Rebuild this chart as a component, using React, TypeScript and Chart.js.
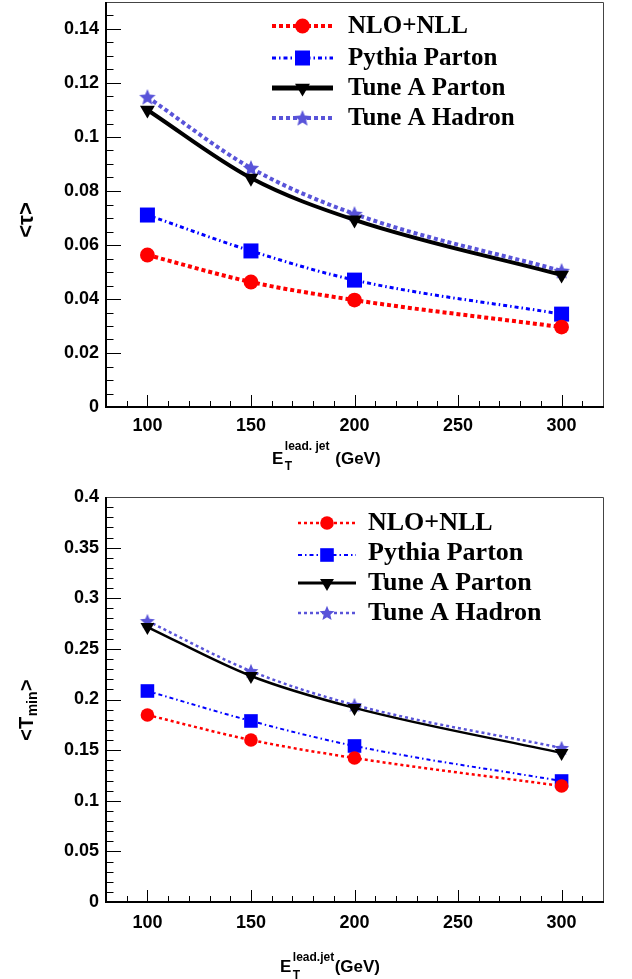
import React, { useEffect, useRef } from 'react';
import { Chart, registerables } from 'chart.js';

Chart.register(...registerables);

// ---------- DATA ----------
const X_VALUES = [100, 150, 200, 300];
const X_TICKS = [100, 150, 200, 250, 300];
const X_MIN = 80;
const X_MAX = 320;
const X_MINOR_STEP = 10;

const SERIES_NAMES = ['NLO+NLL', 'Pythia Parton', 'Tune A Parton', 'Tune A Hadron'];

// Top panel: <tau>
const TAU_NLO_NLL = [0.0563, 0.0463, 0.0396, 0.0296];
const TAU_PYTHIA_PARTON = [0.0711, 0.0578, 0.047, 0.0344];
const TAU_TUNEA_PARTON = [0.11, 0.0848, 0.0693, 0.0489];
const TAU_TUNEA_HADRON = [0.1148, 0.0885, 0.0715, 0.0504];
const TAU_Y_TICKS = [0, 0.02, 0.04, 0.06, 0.08, 0.1, 0.12, 0.14];
const TAU_Y_MAX = 0.15;
const TAU_Y_MINOR_STEP = 0.005;

// Bottom panel: <T_min>
const TMIN_NLO_NLL = [0.1847, 0.16, 0.1422, 0.1146];
const TMIN_PYTHIA_PARTON = [0.2084, 0.1788, 0.1541, 0.1195];
const TMIN_TUNEA_PARTON = [0.2716, 0.2232, 0.1917, 0.1472];
const TMIN_TUNEA_HADRON = [0.2775, 0.2281, 0.1946, 0.1521];
const TMIN_Y_TICKS = [0, 0.05, 0.1, 0.15, 0.2, 0.25, 0.3, 0.35, 0.4];
const TMIN_Y_MAX = 0.4;
const TMIN_Y_MINOR_STEP = 0.01;

// ---------- STYLE ----------
const COLORS = ['#ff0000', '#0000ff', '#000000', '#5954d9'];
const MARKERS = ['circle', 'rect', 'triangle', 'star'];
const AXIS_FONT = 'Liberation Sans';
const LEGEND_FONT = 'Liberation Serif';

type Panel = {
  top: number;
  height: number;
  padTop: number;
  padRight: number;
  yAxisWidth: number;
  xAxisHeight: number;
  xLabelPad: number;
  series: number[][];
  yTicks: number[];
  yMax: number;
  yMinor: number;
  lineWidths: number[];
  dashes: number[][];
  markerSizes: number[]; // circle r, rect half-side, triangle r, star outer r
  legend: { x0: number; x1: number; textX: number; markerY: number[]; baseY: number[]; size: number; lineWidths: number[] };
  xTitle: { x: number; baseline: number; main: number; script: number; supDy: number; subDy: number; space: boolean };
  yTitle: { cx: number; cy: number; main: number; script: number; kind: 'tau' | 'tmin' };
};

const PANELS: Panel[] = [
  {
    top: 0,
    height: 470,
    padTop: 2,
    padRight: 29,
    yAxisWidth: 106,
    xAxisHeight: 63,
    xLabelPad: 8,
    series: [TAU_NLO_NLL, TAU_PYTHIA_PARTON, TAU_TUNEA_PARTON, TAU_TUNEA_HADRON],
    yTicks: TAU_Y_TICKS,
    yMax: TAU_Y_MAX,
    yMinor: TAU_Y_MINOR_STEP,
    lineWidths: [4, 3, 4, 4],
    dashes: [[4, 3], [4, 3, 1.5, 3], [], [4, 3]],
    markerSizes: [7.4, 7.5, 8.6, 8.6],
    legend: { x0: 272, x1: 333, textX: 348, markerY: [26, 58, 88, 118], baseY: [33, 65, 95, 125], size: 25, lineWidths: [4, 3, 5, 4] },
    xTitle: { x: 272, baseline: 464, main: 17, script: 12, supDy: -14, subDy: 6, space: true },
    yTitle: { cx: 27, cy: 220, main: 22, script: 14, kind: 'tau' },
  },
  {
    top: 470,
    height: 509,
    padTop: 27,
    padRight: 29,
    yAxisWidth: 106,
    xAxisHeight: 77,
    xLabelPad: 10,
    series: [TMIN_NLO_NLL, TMIN_PYTHIA_PARTON, TMIN_TUNEA_PARTON, TMIN_TUNEA_HADRON],
    yTicks: TMIN_Y_TICKS,
    yMax: TMIN_Y_MAX,
    yMinor: TMIN_Y_MINOR_STEP,
    lineWidths: [2.5, 2, 2.5, 2.5],
    dashes: [[3, 3], [4, 3, 1.5, 3], [], [3, 3]],
    markerSizes: [6.8, 6.8, 8, 7.8],
    legend: { x0: 298, x1: 356, textX: 368, markerY: [53, 85, 113, 143], baseY: [60, 90, 120, 150], size: 26, lineWidths: [2.5, 2, 3, 2.5] },
    xTitle: { x: 280, baseline: 502, main: 17, script: 12, supDy: -11, subDy: 7, space: false },
    yTitle: { cx: 27, cy: 240, main: 20, script: 14, kind: 'tmin' },
  },
];

function makeStarCanvas(outerR: number, color: string): HTMLCanvasElement {
  const size = Math.ceil(outerR * 2 + 2);
  const c = document.createElement('canvas');
  c.width = size;
  c.height = size;
  const ctx = c.getContext('2d')!;
  const cx = size / 2;
  const cy = size / 2 + outerR * 0.08;
  const innerR = outerR * 0.45;
  ctx.beginPath();
  for (let k = 0; k < 10; k++) {
    const r = k % 2 === 0 ? outerR : innerR;
    const a = -Math.PI / 2 + (k * Math.PI) / 5;
    const px = cx + r * Math.cos(a);
    const py = cy + r * Math.sin(a);
    if (k === 0) ctx.moveTo(px, py);
    else ctx.lineTo(px, py);
  }
  ctx.closePath();
  ctx.fillStyle = color;
  ctx.fill();
  return c;
}

function drawMarker(ctx: CanvasRenderingContext2D, kind: string, x: number, y: number, size: number, color: string, star?: HTMLCanvasElement) {
  ctx.save();
  ctx.setLineDash([]);
  ctx.fillStyle = color;
  ctx.beginPath();
  if (kind === 'circle') {
    ctx.arc(x, y, size, 0, Math.PI * 2);
    ctx.fill();
  } else if (kind === 'rect') {
    ctx.rect(x - size, y - size, size * 2, size * 2);
    ctx.fill();
  } else if (kind === 'triangle') {
    ctx.moveTo(x, y + size);
    ctx.lineTo(x - 0.866 * size, y - 0.5 * size);
    ctx.lineTo(x + 0.866 * size, y - 0.5 * size);
    ctx.closePath();
    ctx.fill();
  } else if (kind === 'star' && star) {
    ctx.drawImage(star, x - star.width / 2, y - star.height / 2);
  }
  ctx.restore();
}

function font(size: number, family: string) {
  return `bold ${size}px "${family}"`;
}

function makePlugin(p: Panel, stars: HTMLCanvasElement[]) {
  return {
    id: 'rootStyle',
    afterDatasetsDraw(chart: any) {
      const { ctx, chartArea: a, scales } = chart;
      const xs = scales.x;
      const ys = scales.y;
      ctx.save();
      ctx.setLineDash([]);
      ctx.strokeStyle = '#000';
      ctx.lineWidth = 1;
      // x ticks (inward)
      const nx = Math.round((X_MAX - X_MIN) / X_MINOR_STEP);
      for (let k = 0; k <= nx; k++) {
        const v = X_MIN + k * X_MINOR_STEP;
        const major = X_TICKS.some((t) => Math.abs(t - v) < 1e-6);
        const px = Math.round(xs.getPixelForValue(v)) + 0.5;
        const len = major ? 12 : 6;
        ctx.beginPath();
        ctx.moveTo(px, a.bottom);
        ctx.lineTo(px, a.bottom - len);
        ctx.stroke();
      }
      // y ticks (inward)
      const ny = Math.round(p.yMax / p.yMinor);
      for (let k = 0; k <= ny; k++) {
        const v = k * p.yMinor;
        const major = p.yTicks.some((t) => Math.abs(t - v) < 1e-9);
        const py = Math.round(ys.getPixelForValue(v)) + 0.5;
        const len = major ? 15 : 7.5;
        ctx.beginPath();
        ctx.moveTo(a.left, py);
        ctx.lineTo(a.left + len, py);
        ctx.stroke();
      }
      // frame
      ctx.strokeStyle = '#444';
      ctx.lineWidth = 1;
      ctx.beginPath();
      ctx.moveTo(a.left, a.top + 0.5);
      ctx.lineTo(a.right + 0.5, a.top + 0.5);
      ctx.lineTo(a.right + 0.5, a.bottom);
      ctx.stroke();
      ctx.strokeStyle = '#000';
      ctx.lineWidth = 2;
      ctx.beginPath();
      ctx.moveTo(a.left, a.top);
      ctx.lineTo(a.left, a.bottom);
      ctx.lineTo(a.right + 1, a.bottom);
      ctx.stroke();
      ctx.restore();
    },
    afterDraw(chart: any) {
      const { ctx } = chart;
      ctx.save();
      // legend
      const L = p.legend;
      chart.data.datasets.forEach((ds: any, i: number) => {
        const y = L.markerY[i];
        ctx.save();
        ctx.strokeStyle = COLORS[i];
        ctx.lineWidth = L.lineWidths[i];
        ctx.setLineDash(p.dashes[i]);
        ctx.lineCap = 'butt';
        ctx.beginPath();
        ctx.moveTo(L.x0, y);
        ctx.lineTo(L.x1, y);
        ctx.stroke();
        ctx.restore();
        const mk = MARKERS[i];
        drawMarker(ctx, mk, (L.x0 + L.x1) / 2, y, p.markerSizes[i], COLORS[i], stars[i]);
        ctx.fillStyle = '#000';
        ctx.font = font(L.size, LEGEND_FONT);
        ctx.textAlign = 'left';
        ctx.textBaseline = 'alphabetic';
        ctx.fillText(ds.label, L.textX, L.baseY[i]);
      });

      // x title: E_T^{lead. jet} (GeV)
      const T = p.xTitle;
      ctx.fillStyle = '#000';
      ctx.textAlign = 'left';
      ctx.textBaseline = 'alphabetic';
      ctx.font = font(T.main, AXIS_FONT);
      ctx.fillText('E', T.x, T.baseline);
      const eW = ctx.measureText('E').width;
      const sx = T.x + eW + 1.5;
      ctx.font = font(T.script, AXIS_FONT);
      const supText = T.space ? 'lead. jet' : 'lead.jet';
      ctx.fillText(supText, sx, T.baseline + T.supDy);
      ctx.fillText('T', sx, T.baseline + T.subDy);
      const supW = ctx.measureText(supText).width;
      ctx.font = font(T.main, AXIS_FONT);
      ctx.fillText(T.space ? ' (GeV)' : '(GeV)', sx + supW + (T.space ? 1 : 0.5), T.baseline);

      // y title rotated
      const Y = p.yTitle;
      ctx.save();
      ctx.translate(Y.cx, Y.cy);
      ctx.rotate(-Math.PI / 2);
      ctx.textBaseline = 'middle';
      ctx.textAlign = 'left';
      if (Y.kind === 'tau') {
        ctx.font = font(Y.main, AXIS_FONT);
        const txt = '<\u03c4>';
        const w = ctx.measureText(txt).width;
        ctx.fillText(txt, -w / 2, 0);
      } else {
        ctx.font = font(Y.main, AXIS_FONT);
        const w1 = ctx.measureText('<T').width;
        const w3 = ctx.measureText('>').width;
        ctx.font = font(Y.script, AXIS_FONT);
        const w2 = ctx.measureText('min').width;
        const total = w1 + w2 + w3 + 1;
        let x = -total / 2;
        ctx.font = font(Y.main, AXIS_FONT);
        ctx.fillText('<T', x, 0);
        x += w1 + 0.5;
        ctx.font = font(Y.script, AXIS_FONT);
        ctx.fillText('min', x, 6);
        x += w2 + 0.5;
        ctx.font = font(Y.main, AXIS_FONT);
        ctx.fillText('>', x, 0);
      }
      ctx.restore();
      ctx.restore();
    },
  };
}

function PanelChart({ panel }: { panel: Panel }) {
  const ref = useRef<HTMLCanvasElement | null>(null);
  useEffect(() => {
    if (!ref.current) return;
    const p = panel;
    const stars = COLORS.map((c, i) => (MARKERS[i] === 'star' ? makeStarCanvas(p.markerSizes[i], c) : (null as any)));
    const datasets = p.series.map((vals, i) => {
      const mk = MARKERS[i];
      let pointStyle: any = mk;
      let radius = p.markerSizes[i];
      if (mk === 'rect') radius = p.markerSizes[i] / Math.SQRT1_2;
      if (mk === 'star') pointStyle = stars[i];
      return {
        label: SERIES_NAMES[i],
        data: X_VALUES.map((x, j) => ({ x, y: vals[j] })),
        borderColor: COLORS[i],
        borderWidth: p.lineWidths[i],
        borderDash: p.dashes[i],
        borderCapStyle: 'butt',
        fill: false,
        cubicInterpolationMode: 'monotone',
        pointStyle,
        pointRadius: radius,
        pointHoverRadius: radius,
        pointRotation: mk === 'triangle' ? 180 : 0,
        pointBackgroundColor: COLORS[i],
        pointBorderColor: COLORS[i],
        pointBorderWidth: 0,
        clip: false,
      };
    });
    const chart = new Chart(ref.current, {
      type: 'line',
      data: { datasets } as any,
      options: {
        animation: false,
        responsive: false,
        maintainAspectRatio: false,
        events: [],
        layout: { autoPadding: false, padding: { top: p.padTop, right: p.padRight, left: 0, bottom: 0 } },
        plugins: {
          legend: { display: false },
          tooltip: { enabled: false },
          title: { display: false },
        },
        scales: {
          x: {
            type: 'linear',
            position: 'bottom',
            min: X_MIN,
            max: X_MAX,
            afterBuildTicks: (s: any) => {
              s.ticks = X_TICKS.map((v) => ({ value: v }));
            },
            afterFit: (s: any) => {
              s.height = p.xAxisHeight;
              s.paddingLeft = 0;
              s.paddingRight = 0;
            },
            ticks: {
              autoSkip: false,
              maxRotation: 0,
              padding: p.xLabelPad,
              color: '#000',
              font: { family: AXIS_FONT, weight: 'bold', size: 18 },
              callback: (v: any) => String(v),
            },
            grid: { display: false, drawTicks: false },
            border: { display: false },
          },
          y: {
            type: 'linear',
            position: 'left',
            min: 0,
            max: p.yMax,
            afterBuildTicks: (s: any) => {
              s.ticks = p.yTicks.map((v) => ({ value: v }));
            },
            afterFit: (s: any) => {
              s.width = p.yAxisWidth;
              s.paddingTop = 0;
              s.paddingBottom = 0;
            },
            ticks: {
              autoSkip: false,
              padding: 7,
              color: '#000',
              font: { family: AXIS_FONT, weight: 'bold', size: 18 },
              callback: (v: any) => String(Number(Number(v).toFixed(4))),
            },
            grid: { display: false, drawTicks: false },
            border: { display: false },
          },
        },
      } as any,
      plugins: [makePlugin(p, stars)] as any,
    });
    return () => chart.destroy();
  }, [panel]);
  return (
    <canvas
      ref={ref}
      width={632}
      height={panel.height}
      style={{ position: 'absolute', left: 0, top: panel.top, width: 632, height: panel.height, display: 'block' }}
    />
  );
}

export default function App() {
  return (
    <div style={{ position: 'absolute', left: 0, top: 0, width: 632, height: 979, background: '#fff', overflow: 'hidden' }}>
      {PANELS.map((p, i) => (
        <PanelChart key={i} panel={p} />
      ))}
    </div>
  );
}
